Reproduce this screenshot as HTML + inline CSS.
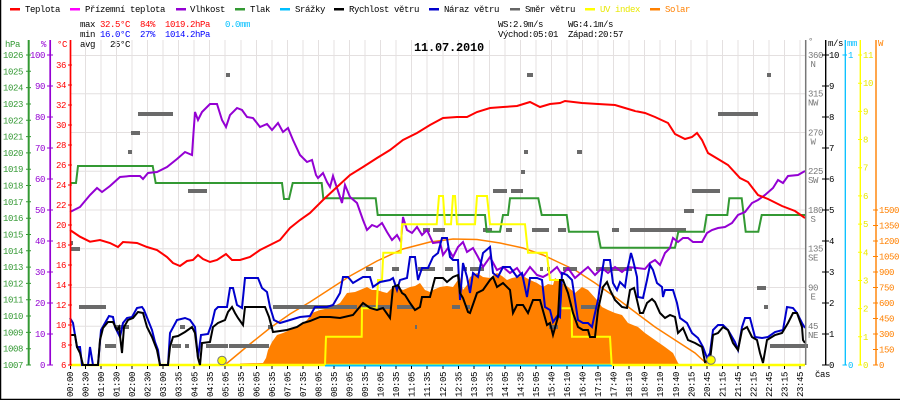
<!DOCTYPE html>
<html><head><meta charset="utf-8"><style>
html,body{margin:0;padding:0;background:#fff;}
svg{display:block;}
text{font-family:"Liberation Mono",monospace;font-size:9px;letter-spacing:-0.4px;}
</style></head><body>
<svg width="900" height="400" viewBox="0 0 900 400" xmlns="http://www.w3.org/2000/svg">
<rect width="900" height="400" fill="#fff"/>
<!-- border -->
<line x1="0.5" y1="0" x2="0.5" y2="400" stroke="#000" stroke-width="1.5"/>
<line x1="0" y1="399.5" x2="900" y2="399.5" stroke="#000" stroke-width="1.5"/>

<!-- legend -->
<g>
<rect x="10" y="8" width="10" height="2.5" fill="#ff0000"/><text x="25" y="12">Teplota</text>
<rect x="70" y="8" width="10" height="2.5" fill="#ff00ff"/><text x="85" y="12">Přízemní teplota</text>
<rect x="176" y="8" width="10" height="2.5" fill="#9400d3"/><text x="190" y="12">Vlhkost</text>
<rect x="235" y="8" width="10" height="2.5" fill="#339933"/><text x="250" y="12">Tlak</text>
<rect x="280" y="8" width="10" height="2.5" fill="#00bfff"/><text x="295" y="12">Srážky</text>
<rect x="334" y="8" width="10" height="2.5" fill="#000"/><text x="349" y="12">Rychlost větru</text>
<rect x="429" y="8" width="10" height="2.5" fill="#0000cc"/><text x="444" y="12">Náraz větru</text>
<rect x="510" y="8" width="10" height="2.5" fill="#666"/><text x="525" y="12">Směr větru</text>
<rect x="585" y="8" width="10" height="2.5" fill="#ffff00"/><text x="600" y="12" fill="#e8e800">UV index</text>
<rect x="650" y="8" width="10" height="2.5" fill="#ff8000"/><text x="665" y="12" fill="#ff8000">Solar</text>
</g>

<!-- stats -->
<text x="80" y="27">max</text><text x="100" y="27" fill="#ff0000">32.5°C</text><text x="140" y="27" fill="#ff0000">84%</text><text x="165" y="27" fill="#ff0000">1019.2hPa</text><text x="225" y="27" fill="#00bfff">0.0mm</text>
<text x="80" y="37">min</text><text x="100" y="37" fill="#0000ff">16.0°C</text><text x="140" y="37" fill="#0000ff">27%</text><text x="165" y="37" fill="#0000ff">1014.2hPa</text>
<text x="80" y="47">avg</text><text x="110" y="47">25°C</text>
<text x="498" y="27">WS:2.9m/s</text><text x="568" y="27">WG:4.1m/s</text>
<text x="498" y="37">Východ:05:01</text><text x="568" y="37">Západ:20:57</text>

<!-- grid -->
<g stroke="#e4e0e0" stroke-width="1">
<line x1="70" y1="55.5" x2="805" y2="55.5"/>
<line x1="70" y1="93.75" x2="805" y2="93.75"/>
<line x1="70" y1="132.5" x2="805" y2="132.5"/>
<line x1="70" y1="171.25" x2="805" y2="171.25"/>
<line x1="70" y1="210" x2="805" y2="210"/>
<line x1="70" y1="248.75" x2="805" y2="248.75"/>
<line x1="70" y1="287.5" x2="805" y2="287.5"/>
<line x1="70" y1="326.25" x2="805" y2="326.25"/>
<path d="M85.5 40V365M101 40V365M116.5 40V365M132 40V365M147.5 40V365M163 40V365M178.5 40V365M194 40V365M209.5 40V365M225 40V365M241 40V365M256.5 40V365M272 40V365M287.5 40V365M303 40V365M318.5 40V365M334 40V365M349.5 40V365M365 40V365M380.5 40V365M396 40V365M411.5 40V365M427 40V365M443 40V365M458.5 40V365M474 40V365M489.5 40V365M505 40V365M520.5 40V365M536 40V365M551.5 40V365M567 40V365M582.5 40V365M598 40V365M613.5 40V365M629 40V365M644.5 40V365M660 40V365M675.5 40V365M691 40V365M707 40V365M722.5 40V365M738 40V365M753.5 40V365M769 40V365M784.5 40V365M800 40V365"/>
</g>

<!-- title -->
<text x="414" y="51" style="font-size:12px;font-weight:bold;letter-spacing:-0.2px">11.07.2010</text>

<!-- solar fill -->
<polygon fill="#ff8000" points="240,365 240,363.5 263,363 266,358 268,350 272,342 277,335 283,333 290,330 297,327 303,323 307,320 312,313 320,310 330,308 340,303 347,293 355,292 360,290 367,287 372,290 377,290 383,292 387,293 392,288 397,287 403,290 410,287 415,286 420,283 425,290 430,292 433,290 440,287 447,286 453,287 460,277 463,290 467,285 470,277 477,273 483,277 490,278 497,273 502,276 507,280 512,278 517,277 523,276 530,280 537,283 543,287 548,284 553,285 555,278 562,283 568,287 575,293 582,287 588,290 597,300 602,307 608,310 615,313 622,315 628,323 638,327 645,333 655,340 665,347 673,353 678,363 680,365"/>
<!-- theoretical solar -->
<polyline fill="none" stroke="#ff8000" stroke-width="1.5" points="226,364 250,344 270,328 290,314 310,302 330,289 350,276 377,261 403,249 430,242 453,239 477,239.5 500,243 523,248 543,255 560,263 575,270 595,283 615,297 635,312 655,327 675,340 695,353 707,364"/>

<!-- wind direction -->
<g fill="#6a6a6a">
<rect x="226" y="73" width="4" height="4"/>
<rect x="138" y="112" width="35" height="4"/>
<rect x="131" y="131" width="9" height="4"/>
<rect x="128" y="150" width="4" height="4"/>
<rect x="188" y="189" width="19" height="4"/>
<rect x="70" y="241" width="3" height="4"/>
<rect x="70" y="247" width="10" height="4"/>
<rect x="79" y="305" width="27" height="4"/>
<rect x="115" y="325" width="14" height="4"/>
<rect x="105" y="344" width="11" height="4"/>
<rect x="172" y="344" width="9" height="4"/>
<rect x="185" y="344" width="4" height="4"/>
<rect x="180" y="325" width="5" height="4"/>
<rect x="206" y="344" width="22" height="4"/>
<rect x="229" y="344" width="40" height="4"/>
<rect x="268" y="325" width="5" height="4"/>
<rect x="273" y="305" width="84" height="4"/>
<rect x="362" y="305" width="28" height="4"/>
<rect x="397" y="305" width="16" height="4"/>
<rect x="452" y="305" width="8" height="4"/>
<rect x="466" y="305" width="4" height="4"/>
<rect x="366" y="267" width="7" height="4"/>
<rect x="392" y="267" width="7" height="4"/>
<rect x="418" y="267" width="17" height="4"/>
<rect x="445" y="267" width="8" height="4"/>
<rect x="462" y="267" width="5" height="4"/>
<rect x="470" y="267" width="14" height="4"/>
<rect x="423" y="228" width="7" height="4"/>
<rect x="433" y="228" width="12" height="4"/>
<rect x="483" y="228" width="9" height="4"/>
<rect x="506" y="228" width="6" height="4"/>
<rect x="532" y="228" width="17" height="4"/>
<rect x="558" y="228" width="8" height="4"/>
<rect x="493" y="189" width="14" height="4"/>
<rect x="511" y="189" width="12" height="4"/>
<rect x="521" y="170" width="4" height="4"/>
<rect x="524" y="150" width="4" height="4"/>
<rect x="527" y="73" width="6" height="4"/>
<rect x="540" y="267" width="3" height="4"/>
<rect x="547" y="267" width="3" height="4"/>
<rect x="415" y="325" width="2" height="4"/>
<rect x="549" y="325" width="8" height="4"/>
<rect x="612" y="228" width="7" height="4"/>
<rect x="630" y="228" width="56" height="4"/>
<rect x="577" y="150" width="5" height="4"/>
<rect x="563" y="267" width="14" height="4"/>
<rect x="596" y="267" width="36" height="4"/>
<rect x="581" y="305" width="16" height="4"/>
<rect x="555" y="325" width="3" height="4"/>
<rect x="684" y="209" width="10" height="4"/>
<rect x="692" y="189" width="28" height="4"/>
<rect x="718" y="112" width="40" height="4"/>
<rect x="767" y="73" width="4" height="4"/>
<rect x="757" y="286" width="9" height="4"/>
<rect x="764" y="305" width="4" height="4"/>
<rect x="770" y="344" width="38" height="4"/>
</g>

<!-- pressure -->
<polyline fill="none" stroke="#339933" stroke-width="2" points="70,183 76,183 78,166 152.7,166 155.7,183 282,183 284,199 289,199 292.7,183 321.7,183 323.3,198.3 375.7,198.3 377.7,215 485,215 486.7,231.7 500,231.7 503,215 508,215 510,198.3 538.3,198.3 541.7,215 566.7,215 569,231.7 597.7,231.7 600.7,247.7 675,247.7 678.3,231.7 704,231.7 706.7,215 727.3,215 729.3,198.3 741.7,198.3 745.7,231.7 758.3,231.7 761.7,215 805,215"/>

<!-- humidity -->
<polyline fill="none" stroke="#9400d3" stroke-width="2" points="70,212 80,207 90,195 97,188 102,192 110,186 120,177 130,176 140,176 143,179 148,173 157,172 167,167 177,159 185,152 192,155 193,140 195,112 198,120 202,112 210,104 217,104 222,120 226,127 230,115 237,108 242,110 247,117 253,118 260,127 267,124 272,130 278,123 283,132 288,128 293,140 300,155 307,162 312,160 316,175 318,178 323,173 327,182 330,187 333,176 337,188 342,203 345,185 350,197 357,203 363,220 367,230 372,225 377,227 382,223 387,232 392,240 397,235 401,242 403,217 407,230 412,233 417,227 422,235 427,230 433,243 440,242 443,255 448,248 453,257 458,247 463,242 467,252 473,248 478,257 483,267 490,257 497,270 503,267 510,273 517,268 523,277 530,267 537,275 543,277 550,273 557,267 562,275 568,268 575,278 582,272 588,267 595,275 602,268 608,273 615,267 622,272 628,267 637,268 645,269 650,263 655,260 660,265 665,253 670,248 673,238 678,242 683,238 688,238 693,242 702,242 707,233 712,230 718,228 725,227 732,223 738,215 745,212 752,203 758,200 765,195 773,188 778,180 783,183 788,176 798,175 805,171"/>

<!-- temperature -->
<polyline fill="none" stroke="#ff0000" stroke-width="2" points="70,230 80,236.7 90,241.7 100,240 110,243 118,247 123,242 137,243 147,247 157,250 167,257 173,263 180,266 187,261 193,260 198,255 203,259 210,262 217,260 226,254 232,260 240,260 250,257 260,250 270,245 280,240 290,228 300,220 310,213 323,200 337,187 350,175 363,167 377,158 390,150 403,140 417,133 430,125 443,118 457,117 467,117 477,112 490,108 503,107 517,106 530,102 540,107 550,104 560,103 565,101 582,103 598,104 615,105 625,108 635,111 645,113 655,117 668,123 675,134 685,139 692,137 697,133 702,140 708,153 718,159 728,165 740,178 748,182 758,195 768,199 782,206 795,211 805,218"/>

<!-- baseline yellow / cyan -->
<line x1="70" y1="365" x2="805" y2="365" stroke="#ffff00" stroke-width="2.5"/>
<line x1="325" y1="365.5" x2="612" y2="365.5" stroke="#00bfff" stroke-width="2"/>

<!-- UV -->
<polyline fill="none" stroke="#ffff00" stroke-width="2" points="325,365 326,336.7 361.7,336.7 362,308.3 376.7,308.3 378,280 382,280 383.3,252.7 400.7,252.7 402,224.3 436.7,224.3 439,196 443,196 445,224.3 451,224.3 453,196 455,196 457,224.3 475,224.3 477,196 487,196 490,224.3 525,224.3 528,252.7 546.7,252.7 550,280 560,280 561,308.3 571.7,308.3 572,336.7 610,336.7 611.7,365"/>

<!-- gust -->
<polyline fill="none" stroke="#0000cc" stroke-width="2" points="70,318 73,323 77,347 80,347 82,365 88,365 90,347 93,365 98,365 101,330 105,323 109,316 113,317 115,327 120,337 123,323 127,318 132,317 137,308 142,307 144,310 148,320 152,330 155,342 158,350 160,365 168,365 170,333 177,320 185,318 190,320 195,327 198,358 201,335 208,334 212,323 215,310 218,307 227,307 230,288 233,288 237,305 242,308 245,278 258,278 262,288 267,292 270,307 274,320 280,323 290,320 300,317 310,316 315,307 327,307 333,305 340,293 343,277 348,277 353,283 363,277 370,277 373,287 380,282 390,280 393,278 397,290 400,280 407,278 410,257 415,257 418,280 422,268 428,268 433,257 438,253 442,238 447,238 450,257 453,260 458,260 460,300 463,263 467,277 470,293 473,273 478,277 483,253 490,247 493,273 498,277 503,267 510,267 517,277 522,273 527,297 530,278 537,278 542,280 545,307 550,310 553,322 558,315 560,317 562,273 567,275 572,280 575,300 578,320 583,323 588,323 592,327 595,313 598,300 602,273 604,260 610,260 613,283 617,290 620,282 625,287 628,267 631,253 633,260 637,277 638,297 643,298 647,280 650,265 653,270 657,283 662,287 663,297 665,290 673,290 677,303 680,318 687,323 692,333 698,338 703,347 707,358 710,353 713,330 718,325 723,325 728,330 735,342 738,350 742,327 745,318 750,318 755,337 762,338 768,337 775,332 783,330 787,307 793,308 797,313 802,323 805,328"/>

<!-- wind speed -->
<polyline fill="none" stroke="#000" stroke-width="2" points="70,335 75,335 77,347 80,353 83,365 98,365 100,340 103,328 108,322 113,322 117,330 119,327 122,353 124,327 128,320 133,318 138,312 143,313 147,327 152,337 157,350 160,365 168,365 170,347 173,337 178,336 185,332 192,327 195,333 198,358 200,365 202,343 210,342 213,327 218,323 225,320 228,312 232,307 235,313 238,318 243,325 245,307 265,307 269,317 273,332 287,330 297,327 303,323 310,321 320,317 330,317 340,318 353,315 363,303 370,308 377,310 383,308 390,318 393,287 398,285 402,293 405,295 410,303 415,310 420,307 422,297 430,297 435,278 443,278 447,282 453,277 458,275 460,293 463,298 468,312 470,313 477,293 483,290 490,280 493,277 497,287 503,283 510,290 513,313 517,305 523,305 528,313 533,300 540,300 547,325 550,323 553,335 558,317 560,280 563,280 568,293 573,313 578,327 583,330 588,330 590,337 595,337 598,310 603,287 607,282 610,290 615,300 622,307 627,308 630,290 634,288 637,300 640,313 643,313 647,303 652,299 655,302 660,313 665,318 670,315 675,317 678,333 683,328 688,340 695,343 702,347 705,362 710,360 713,335 718,333 723,327 728,330 733,343 738,350 742,330 747,327 752,337 757,340 760,353 763,363 767,340 775,335 782,333 788,323 793,313 797,313 802,327 803,340 805,343"/>

<!-- sunrise/sunset markers -->
<circle cx="222" cy="360.5" r="4.3" fill="#ffff00" stroke="#777" stroke-width="1"/>
<circle cx="711" cy="360" r="4.3" fill="#ffff00" stroke="#777" stroke-width="1"/>

<!-- left axes -->
<line x1="28.7" y1="40" x2="28.7" y2="365" stroke="#339933" stroke-width="2"/>
<line x1="50.2" y1="40" x2="50.2" y2="365" stroke="#9400d3" stroke-width="1.7"/>
<line x1="70.5" y1="40" x2="70.5" y2="365" stroke="#ff0000" stroke-width="1.7"/>
<text x="5" y="47" fill="#339933">hPa</text>
<text x="41" y="47" fill="#9400d3">%</text>
<text x="57" y="47" fill="#ff0000">°C</text>

<g fill="#339933" text-anchor="end">
<text x="23" y="368">1007</text><text x="23" y="351.7">1008</text><text x="23" y="335.4">1009</text><text x="23" y="319">1010</text><text x="23" y="302.7">1011</text><text x="23" y="286.4">1012</text><text x="23" y="270.1">1013</text><text x="23" y="253.8">1014</text><text x="23" y="237.5">1015</text><text x="23" y="221.2">1016</text><text x="23" y="204.8">1017</text><text x="23" y="188.5">1018</text><text x="23" y="172.2">1019</text><text x="23" y="155.9">1020</text><text x="23" y="139.6">1021</text><text x="23" y="123.3">1022</text><text x="23" y="107">1023</text><text x="23" y="90.6">1024</text><text x="23" y="74.3">1025</text><text x="23" y="58">1026</text>
</g>
<path stroke="#339933" stroke-width="1" d="M26 365H31M26 348.7H31M26 332.4H31M26 316H31M26 299.7H31M26 283.4H31M26 267.1H31M26 250.8H31M26 234.5H31M26 218.2H31M26 201.8H31M26 185.5H31M26 169.2H31M26 152.9H31M26 136.6H31M26 120.3H31M26 104H31M26 87.6H31M26 71.3H31M26 55H31"/>

<g fill="#9400d3" text-anchor="end">
<text x="45" y="368">0</text><text x="45" y="337">10</text><text x="45" y="306">20</text><text x="45" y="275">30</text><text x="45" y="244">40</text><text x="45" y="213">50</text><text x="45" y="182">60</text><text x="45" y="151">70</text><text x="45" y="120">80</text><text x="45" y="89">90</text><text x="45" y="58">100</text>
</g>
<path stroke="#9400d3" stroke-width="1" d="M47 365H53M47 334H53M47 303H53M47 272H53M47 241H53M47 210H53M47 179H53M47 148H53M47 117H53M47 86H53M47 55H53"/>

<g fill="#ff0000" text-anchor="end">
<text x="66" y="368">6</text><text x="66" y="348">8</text><text x="66" y="328">10</text><text x="66" y="308">12</text><text x="66" y="288">14</text><text x="66" y="268">16</text><text x="66" y="248">18</text><text x="66" y="228">20</text><text x="66" y="208">22</text><text x="66" y="188">24</text><text x="66" y="168">26</text><text x="66" y="148">28</text><text x="66" y="128">30</text><text x="66" y="108">32</text><text x="66" y="88">34</text><text x="66" y="68">36</text>
</g>
<path stroke="#ff0000" stroke-width="1" d="M68 365H72M68 345H72M68 325H72M68 305H72M68 285H72M68 265H72M68 245H72M68 225H72M68 205H72M68 185H72M68 165H72M68 145H72M68 125H72M68 105H72M68 85H72M68 65H72"/>

<!-- right axes -->
<line x1="805.7" y1="40" x2="805.7" y2="365" stroke="#777" stroke-width="1.5"/>
<line x1="825.7" y1="40" x2="825.7" y2="365" stroke="#000" stroke-width="1.4"/>
<line x1="845.3" y1="40" x2="845.3" y2="365" stroke="#00bfff" stroke-width="1.3"/>
<line x1="860.3" y1="40" x2="860.3" y2="365" stroke="#ffff00" stroke-width="1.4"/>
<line x1="876" y1="40" x2="876" y2="365" stroke="#ff8000" stroke-width="1.4"/>
<text x="808" y="44" fill="#777">°</text>
<text x="828" y="46">m/s</text>
<text x="847" y="46" fill="#00bfff">mm</text>
<text x="878" y="46" fill="#ff8000">W</text>

<g fill="#777">
<text x="808" y="58">360</text><text x="813" y="67" text-anchor="middle">N</text>
<text x="808" y="96.7">315</text><text x="813" y="105.7" text-anchor="middle">NW</text>
<text x="808" y="135.5">270</text><text x="813" y="144.5" text-anchor="middle">W</text>
<text x="808" y="174.2">225</text><text x="813" y="183.2" text-anchor="middle">SW</text>
<text x="808" y="213">180</text><text x="813" y="222" text-anchor="middle">S</text>
<text x="808" y="251.7">135</text><text x="813" y="260.7" text-anchor="middle">SE</text>
<text x="808" y="290.5">90</text><text x="813" y="299.5" text-anchor="middle">E</text>
<text x="808" y="329.2">45</text><text x="813" y="338.2" text-anchor="middle">NE</text>
</g>

<g fill="#000">
<text x="829" y="368">0</text><text x="829" y="337">1</text><text x="829" y="306">2</text><text x="829" y="275">3</text><text x="829" y="244">4</text><text x="829" y="213">5</text><text x="829" y="182">6</text><text x="829" y="151">7</text><text x="829" y="120">8</text><text x="829" y="89">9</text><text x="829" y="58">10</text>
</g>
<path stroke="#000" stroke-width="1" d="M822 365H829M822 334H829M822 303H829M822 272H829M822 241H829M822 210H829M822 179H829M822 148H829M822 117H829M822 86H829M822 55H829"/>

<text x="848" y="368" fill="#00bfff">0</text><text x="848" y="58" fill="#00bfff">1</text>
<path stroke="#00bfff" stroke-width="1" d="M842.5 365H847M842.5 55H847"/>

<g fill="#e8e800">
<text x="863" y="368">0</text><text x="863" y="339.8">1</text><text x="863" y="311.6">2</text><text x="863" y="283.5">3</text><text x="863" y="255.3">4</text><text x="863" y="227.1">5</text><text x="863" y="198.9">6</text><text x="863" y="170.7">7</text><text x="863" y="142.5">8</text><text x="863" y="114.4">9</text><text x="863" y="86.2">10</text><text x="863" y="58">11</text>
</g>
<path stroke="#ffff00" stroke-width="1" d="M858 365H862M858 336.8H862M858 308.6H862M858 280.5H862M858 252.3H862M858 224.1H862M858 195.9H862M858 167.7H862M858 139.5H862M858 111.4H862M858 83.2H862M858 55H862"/>

<g fill="#ff8000">
<text x="879" y="368">0</text><text x="879" y="352.5">150</text><text x="879" y="337">300</text><text x="879" y="321.5">450</text><text x="879" y="306">600</text><text x="879" y="290.5">750</text><text x="879" y="275">900</text><text x="879" y="259.5">1050</text><text x="879" y="244">1200</text><text x="879" y="228.5">1350</text><text x="879" y="213">1500</text>
</g>
<path stroke="#ff8000" stroke-width="1" d="M873 365H878M873 349.5H878M873 334H878M873 318.5H878M873 303H878M873 287.5H878M873 272H878M873 256.5H878M873 241H878M873 225.5H878M873 210H878"/>

<text x="815" y="377">čas</text>

<!-- x ticks -->
<path stroke="#000" stroke-width="1" d="M70.5 366V369M85.5 366V369M101 366V369M116.5 366V369M132 366V369M147.5 366V369M163 366V369M178.5 366V369M194 366V369M209.5 366V369M225 366V369M241 366V369M256.5 366V369M272 366V369M287.5 366V369M303 366V369M318.5 366V369M334 366V369M349.5 366V369M365 366V369M380.5 366V369M396 366V369M411.5 366V369M427 366V369M443 366V369M458.5 366V369M474 366V369M489.5 366V369M505 366V369M520.5 366V369M536 366V369M551.5 366V369M567 366V369M582.5 366V369M598 366V369M613.5 366V369M629 366V369M644.5 366V369M660 366V369M675.5 366V369M691 366V369M707 366V369M722.5 366V369M738 366V369M753.5 366V369M769 366V369M784.5 366V369M800 366V369"/>

<!-- x labels -->
<g text-anchor="end">
<text transform="translate(73,372) rotate(-90)">00:00</text>
<text transform="translate(88.5,372) rotate(-90)">00:30</text>
<text transform="translate(104.1,372) rotate(-90)">01:00</text>
<text transform="translate(119.6,372) rotate(-90)">01:30</text>
<text transform="translate(135.1,372) rotate(-90)">02:00</text>
<text transform="translate(150.7,372) rotate(-90)">02:30</text>
<text transform="translate(166.2,372) rotate(-90)">03:00</text>
<text transform="translate(181.7,372) rotate(-90)">03:35</text>
<text transform="translate(197.3,372) rotate(-90)">04:05</text>
<text transform="translate(212.8,372) rotate(-90)">04:35</text>
<text transform="translate(228.3,372) rotate(-90)">05:05</text>
<text transform="translate(243.9,372) rotate(-90)">05:35</text>
<text transform="translate(259.4,372) rotate(-90)">06:05</text>
<text transform="translate(274.9,372) rotate(-90)">06:35</text>
<text transform="translate(290.5,372) rotate(-90)">07:05</text>
<text transform="translate(306,372) rotate(-90)">07:35</text>
<text transform="translate(321.5,372) rotate(-90)">08:05</text>
<text transform="translate(337,372) rotate(-90)">08:35</text>
<text transform="translate(352.6,372) rotate(-90)">09:05</text>
<text transform="translate(368.1,372) rotate(-90)">09:35</text>
<text transform="translate(383.6,372) rotate(-90)">10:05</text>
<text transform="translate(399.2,372) rotate(-90)">10:35</text>
<text transform="translate(414.7,372) rotate(-90)">11:05</text>
<text transform="translate(430.2,372) rotate(-90)">11:35</text>
<text transform="translate(445.8,372) rotate(-90)">12:05</text>
<text transform="translate(461.3,372) rotate(-90)">12:35</text>
<text transform="translate(476.8,372) rotate(-90)">13:05</text>
<text transform="translate(492.4,372) rotate(-90)">13:35</text>
<text transform="translate(507.9,372) rotate(-90)">14:05</text>
<text transform="translate(523.4,372) rotate(-90)">14:35</text>
<text transform="translate(539,372) rotate(-90)">15:05</text>
<text transform="translate(554.5,372) rotate(-90)">15:40</text>
<text transform="translate(570,372) rotate(-90)">16:10</text>
<text transform="translate(585.6,372) rotate(-90)">16:40</text>
<text transform="translate(601.1,372) rotate(-90)">17:10</text>
<text transform="translate(616.6,372) rotate(-90)">17:40</text>
<text transform="translate(632.2,372) rotate(-90)">18:10</text>
<text transform="translate(647.7,372) rotate(-90)">18:40</text>
<text transform="translate(663.2,372) rotate(-90)">19:10</text>
<text transform="translate(678.8,372) rotate(-90)">19:40</text>
<text transform="translate(694.3,372) rotate(-90)">20:15</text>
<text transform="translate(709.8,372) rotate(-90)">20:45</text>
<text transform="translate(725.3,372) rotate(-90)">21:15</text>
<text transform="translate(740.9,372) rotate(-90)">21:45</text>
<text transform="translate(756.4,372) rotate(-90)">22:15</text>
<text transform="translate(771.9,372) rotate(-90)">22:45</text>
<text transform="translate(787.5,372) rotate(-90)">23:15</text>
<text transform="translate(803,372) rotate(-90)">23:45</text>
</g>
</svg>
</body></html>
